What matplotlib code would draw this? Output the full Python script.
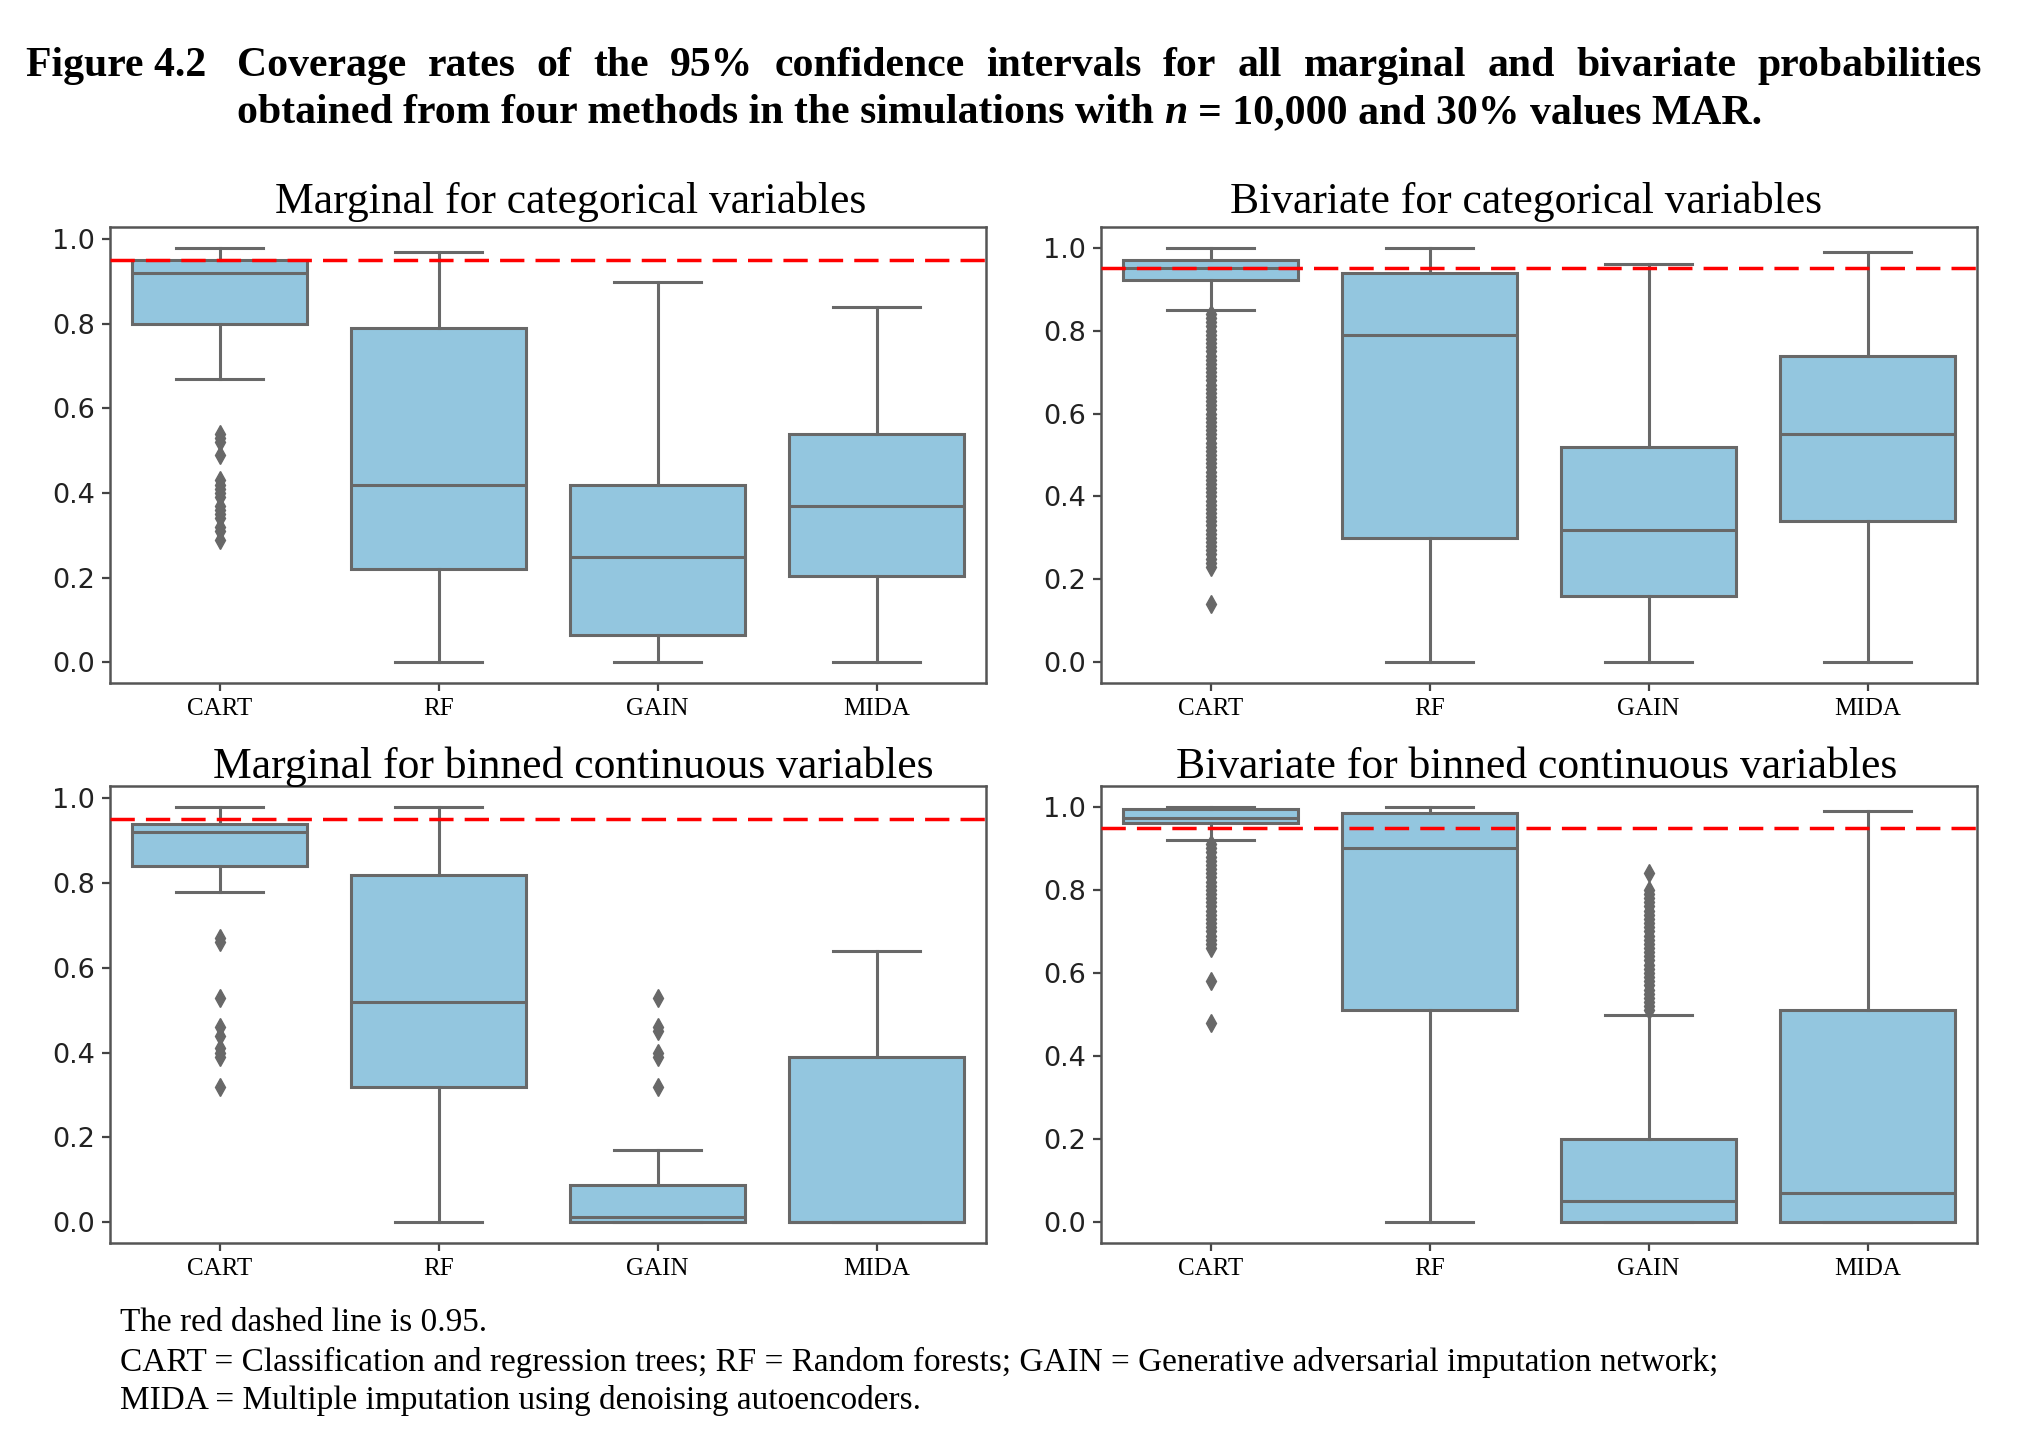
import matplotlib
matplotlib.use('Agg')
import matplotlib.pyplot as plt

# ── data ───────────────────────────────────────────────────────────
methods = ['CART', 'RF', 'GAIN', 'MIDA']
panel_titles = ['Marginal for categorical variables',
                'Bivariate for categorical variables',
                'Marginal for binned continuous variables',
                'Bivariate for binned continuous variables']

# five-number summaries per method: [whisker low, Q1, median, Q3, whisker high]
marg_cat = [[0.67, 0.80, 0.92, 0.95, 0.98],
            [0.00, 0.22, 0.42, 0.79, 0.97],
            [0.00, 0.065, 0.25, 0.42, 0.90],
            [0.00, 0.205, 0.37, 0.54, 0.84]]
biv_cat = [[0.85, 0.922, 0.95, 0.97, 1.00],
           [0.00, 0.30, 0.79, 0.94, 1.00],
           [0.00, 0.16, 0.32, 0.52, 0.96],
           [0.00, 0.34, 0.55, 0.74, 0.99]]
marg_bin = [[0.78, 0.84, 0.92, 0.94, 0.98],
            [0.00, 0.32, 0.52, 0.82, 0.98],
            [0.00, 0.00, 0.012, 0.087, 0.17],
            [0.00, 0.00, 0.00, 0.39, 0.64]]
biv_bin = [[0.92, 0.962, 0.973, 0.995, 1.00],
           [0.00, 0.51, 0.90, 0.985, 1.00],
           [0.00, 0.00, 0.05, 0.20, 0.50],
           [0.00, 0.00, 0.07, 0.51, 0.99]]

# outliers per method
marg_cat_out = [[0.54, 0.53, 0.52, 0.49, 0.43, 0.42, 0.41, 0.40, 0.39, 0.37,
                 0.36, 0.35, 0.34, 0.32, 0.31, 0.29], [], [], []]
biv_cat_out = [[0.84, 0.83, 0.82, 0.81, 0.80, 0.79, 0.78, 0.77, 0.76, 0.75,
                0.74, 0.73, 0.72, 0.71, 0.70, 0.69, 0.68, 0.67, 0.66, 0.65,
                0.64, 0.63, 0.62, 0.61, 0.60, 0.59, 0.58, 0.57, 0.56, 0.55,
                0.54, 0.53, 0.52, 0.51, 0.50, 0.49, 0.48, 0.47, 0.46, 0.45,
                0.44, 0.43, 0.42, 0.41, 0.40, 0.39, 0.38, 0.37, 0.36, 0.35,
                0.34, 0.33, 0.32, 0.31, 0.30, 0.29, 0.28, 0.27, 0.26, 0.25,
                0.24, 0.23, 0.14], [], [], []]
marg_bin_out = [[0.67, 0.66, 0.53, 0.46, 0.44, 0.41, 0.40, 0.39, 0.32], [],
                [0.53, 0.46, 0.45, 0.40, 0.39, 0.32], []]
biv_bin_out = [[0.91, 0.90, 0.89, 0.88, 0.87, 0.86, 0.85, 0.84, 0.83, 0.82,
                0.81, 0.80, 0.79, 0.78, 0.77, 0.76, 0.75, 0.74, 0.73, 0.72,
                0.71, 0.70, 0.69, 0.68, 0.67, 0.66, 0.58, 0.48], [],
               [0.84, 0.80, 0.79, 0.78, 0.77, 0.76, 0.75, 0.74, 0.73, 0.72,
                0.71, 0.70, 0.69, 0.68, 0.67, 0.66, 0.65, 0.64, 0.63, 0.62,
                0.61, 0.60, 0.59, 0.58, 0.57, 0.56, 0.55, 0.54, 0.53, 0.52,
                0.51], []]

ref_line = 0.95

title_line1_head = 'Figure 4.2'
title_line1_words = ('Coverage rates of the 95% confidence intervals for all '
                     'marginal and bivariate probabilities').split()
title_line2 = [('obtained from four methods in the simulations with', 'normal'),
               ('n', 'italic'), ('= 10,000 and 30% values MAR.', 'normal')]
footnotes = ['The red dashed line is 0.95.',
             'CART = Classification and regression trees; RF = Random forests; '
             'GAIN = Generative adversarial imputation network;',
             'MIDA = Multiple imputation using denoising autoencoders.']

# ── style ──────────────────────────────────────────────────────────
W, H = 2029, 1448
BOX = '#93C6DF'
GRAY = '#686868'
SERIF = 'Liberation Serif'

fig = plt.figure(figsize=(W / 100, H / 100), dpi=100)
renderer = fig.canvas.get_renderer()


def px(x, y):
    return x / W, 1 - y / H


def width_of(t):
    return t.get_window_extent(renderer).width


def fit_size(s, target, **kw):
    t = fig.text(0, 0, s, fontsize=20, **kw)
    size = 20 * target / width_of(t)
    t.remove()
    return size


# ── panels ─────────────────────────────────────────────────────────
# axes boxes in pixels: (left, top, right, bottom)
boxes = [(110, 227, 986, 683), (1101, 227, 1977, 683),
         (110, 786, 986, 1243), (1101, 786, 1977, 1243)]
summaries = [marg_cat, biv_cat, marg_bin, biv_bin]
outliers = [marg_cat_out, biv_cat_out, marg_bin_out, biv_bin_out]
title_centres = [(571, 202), (1526, 202), (573, 767), (1537, 767)]
title_widths = [593, 593, 723, 725]

tsize = fit_size(panel_titles[0], title_widths[0], family=SERIF)

for (l, t, r, b), summ, outs, title, (tx, ty) in zip(
        boxes, summaries, outliers, panel_titles, title_centres):
    ax = fig.add_axes([l / W, 1 - b / H, (r - l) / W, (b - t) / H])
    stats = []
    for name, (lo, q1, med, q3, hi), fl in zip(methods, summ, outs):
        stats.append(dict(label=name, whislo=lo, q1=q1, med=med, q3=q3,
                          whishi=hi, fliers=fl))
    ax.bxp(stats, positions=range(len(methods)), widths=0.8, capwidths=0.4,
           patch_artist=True,
           boxprops=dict(facecolor=BOX, edgecolor=GRAY, linewidth=2.2),
           medianprops=dict(color=GRAY, linewidth=2.2),
           whiskerprops=dict(color=GRAY, linewidth=2.2),
           capprops=dict(color=GRAY, linewidth=2.2),
           flierprops=dict(marker='d', markerfacecolor=GRAY,
                           markeredgecolor=GRAY, markersize=9))
    ax.axhline(ref_line, color='red', linewidth=2.5, dashes=(7, 3.2), zorder=5)
    ax.set_xlim(-0.5, len(methods) - 0.5)
    ax.margins(y=0.05)
    ax.set_yticks([0.0, 0.2, 0.4, 0.6, 0.8, 1.0])
    ax.set_yticklabels(['0.0', '0.2', '0.4', '0.6', '0.8', '1.0'],
                       fontsize=19.5, family='DejaVu Sans', color='#222222')
    ax.set_xticks(range(len(methods)))
    ax.set_xticklabels(methods, fontsize=18, family=SERIF)
    ax.tick_params(length=6, width=1.6, color='#444444', pad=5)
    for sp in ax.spines.values():
        sp.set_color('#555555')
        sp.set_linewidth(1.8)
    fig.text(*px(tx, ty), title, fontsize=tsize, family=SERIF,
             ha='center', va='center')

# ── figure caption (bold serif, first line justified) ─────────────
cap_kw = dict(family=SERIF, weight='bold')
line2_full = ' '.join(s for s, _ in title_line2)
csize = fit_size(line2_full, 1520, **cap_kw)

y1, y2 = 66, 113
fig.text(*px(26, y1), title_line1_head, fontsize=csize, va='center', **cap_kw)
texts = [fig.text(0, px(0, y1)[1], w, fontsize=csize, va='center', **cap_kw)
         for w in title_line1_words]
widths = [width_of(tt) for tt in texts]
x0, x1 = 237, 1982
gap = (x1 - x0 - sum(widths)) / (len(texts) - 1)
x = x0
for tt, w in zip(texts, widths):
    tt.set_x(x / W)
    x += w + gap

probe_a = fig.text(0, 0, 'a a', fontsize=csize, **cap_kw)
probe_b = fig.text(0, 0, 'aa', fontsize=csize, **cap_kw)
space = width_of(probe_a) - width_of(probe_b)
probe_a.remove()
probe_b.remove()
x = 237
for s, style in title_line2:
    tt = fig.text(*px(x, y2), s, fontsize=csize, va='center', style=style,
                  **cap_kw)
    x += width_of(tt) + space

# ── footnotes ──────────────────────────────────────────────────────
fsize = fit_size(footnotes[1], 1598, family=SERIF)
for i, line in enumerate(footnotes):
    fig.text(*px(120, 1323 + 39 * i), line, fontsize=fsize, family=SERIF,
             va='center')

fig.savefig('out.png', dpi=100)
